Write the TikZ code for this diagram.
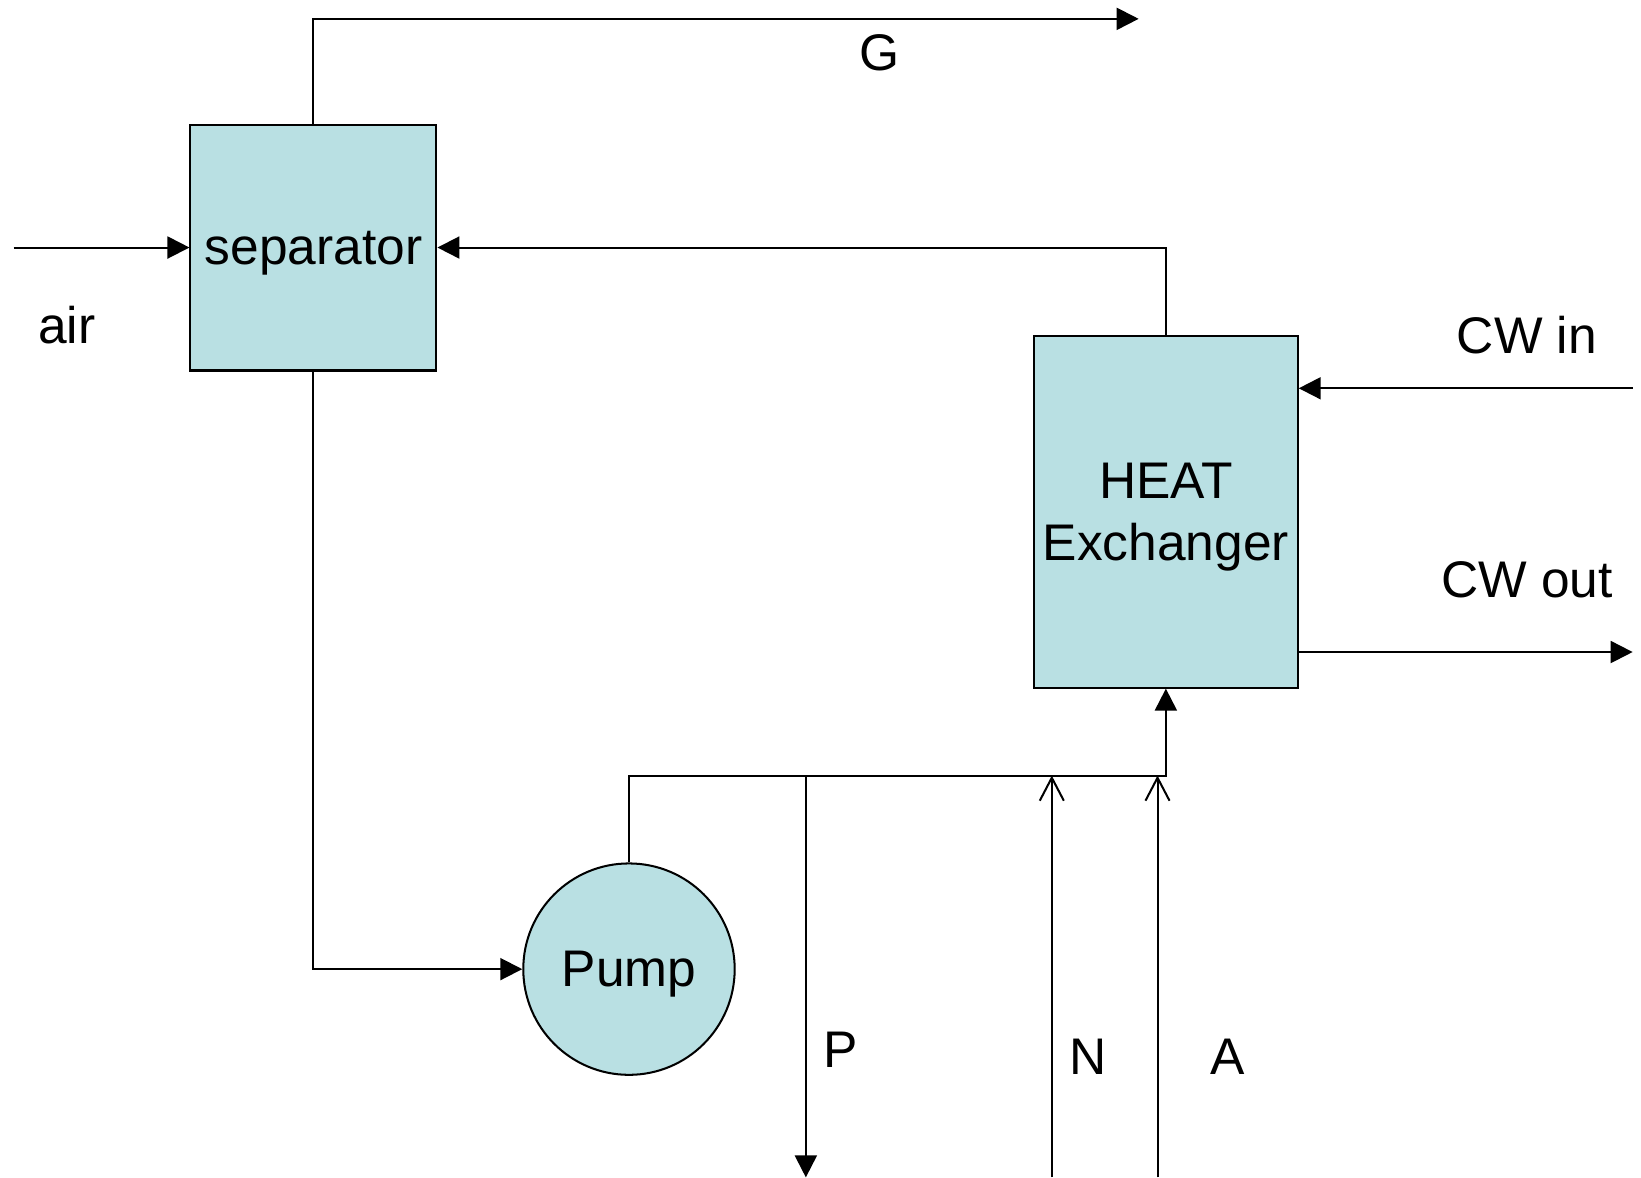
\documentclass[tikz,border=0pt]{standalone}
\usepackage{fontspec}
\setmainfont{Liberation Sans}
\usepackage{tikz}
\usetikzlibrary{arrows,arrows.meta,calc,positioning,shapes}
\definecolor{unitfill}{RGB}{185,224,227}
\tikzset{%
	block/.style    = {draw, rectangle, fill=unitfill, text centered, text depth=0pt}, % Unit
	pumpunit/.style = {draw, circle, fill=unitfill, minimum size=2.02cm, inner sep=0pt, text depth=0pt}, % Pump
	waypoint/.style = {coordinate}, % Bend
	stream/.style   = {anchor=base, inner sep=0pt}, % Stream name
	feed/.style     = {-{Straight Barb[length=2.2mm,width=2.3mm]}}, % Open tip
}

\begin{document}
\begin{tikzpicture}[node distance=1.5cm,>={Triangle[length=2.1mm,width=2.1mm]},line width=0.55pt,font=\fontsize{14}{16.8}\selectfont]
	\useasboundingbox (0,0) rectangle (15.68,-11.25);
	\node [block,minimum width=2.35cm,minimum height=2.35cm] (sep) at (2.995,-2.365) {separator};
	\node [block,minimum width=2.52cm,minimum height=3.36cm,inner sep=2pt,align=center] (hx) at (11.14,-4.89) {HEAT\\Exchanger};
	\node [pumpunit] (pump) at (6.01,-9.26) {Pump};
	\node [waypoint] (air) [left of=sep,node distance=2.865cm] {};
	\node [waypoint] (gup) [above of=sep,node distance=2.185cm] {};
	\node [waypoint] (g) [right of=gup,node distance=7.885cm] {};
	\node [waypoint] (mix) [below of=hx,node distance=2.52cm] {};
	\node [waypoint] (psplit) [left of=mix,node distance=3.44cm] {};
	\node [waypoint] (p) [below of=psplit,node distance=3.84cm] {};
	\node [waypoint] (njoin) [left of=mix,node distance=1.09cm] {};
	\node [waypoint] (n) [below of=njoin,node distance=3.84cm] {};
	\node [waypoint] (ajoin) [left of=mix,node distance=0.08cm] {};
	\node [waypoint] (a) [below of=ajoin,node distance=3.84cm] {};
	\node [waypoint] (cwin) at (15.60,-3.71) {};
	\node [waypoint] (cwout) at (15.60,-6.23) {};
	
	\draw[->] (air) -- (sep);
	\draw[->] (sep) -- (gup) -- (g);
	\draw[->] (hx) |- (sep);
	\draw[->] (sep) |- (pump);
	\draw[->] (pump) |- (mix) -- (hx);
	\draw[->] (psplit) -- (p);
	\draw[feed] (n) -- (njoin);
	\draw[feed] (a) -- (ajoin);
	\draw[->] (cwin) -- (cwin -| hx.east);
	\draw[->] (cwout -| hx.east) -- (cwout);
	
	\node [stream] (glbl) at (8.40,-0.67) {G};
	\node [stream] (airlbl) at (0.64,-3.28) {air};
	\node [stream] (cwinlbl) at (14.59,-3.38) {CW in};
	\node [stream] (cwoutlbl) at (14.59,-5.71) {CW out};
	\node [stream] (plbl) at (8.03,-10.20) {P};
	\node [stream] (nlbl) at (10.40,-10.27) {N};
	\node [stream] (albl) at (11.73,-10.27) {A};
\end{tikzpicture}
\end{document}
